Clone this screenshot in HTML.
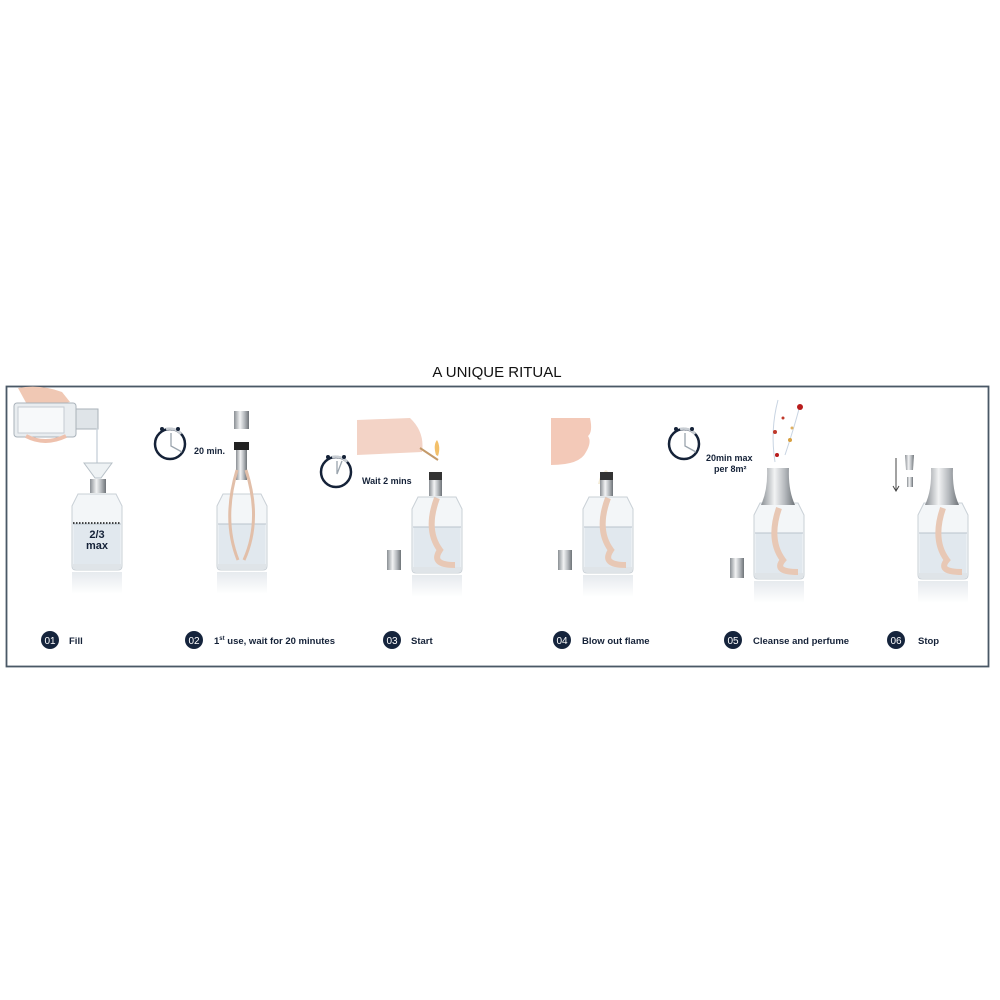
<!DOCTYPE html>
<html><head><meta charset="utf-8"><style>
html,body{margin:0;padding:0;background:#fff;}
svg{display:block;font-family:"Liberation Sans",sans-serif;}
</style></head><body>
<svg width="1000" height="1000" viewBox="0 0 1000 1000" xmlns="http://www.w3.org/2000/svg">
<defs>
<linearGradient id="silver" x1="0" x2="1"><stop offset="0" stop-color="#8a8f94"/><stop offset="0.4" stop-color="#f2f3f4"/><stop offset="0.7" stop-color="#b5b9bd"/><stop offset="1" stop-color="#6e7378"/></linearGradient>
<linearGradient id="refl" x1="0" y1="0" x2="0" y2="1"><stop offset="0" stop-color="#e6eaee"/><stop offset="1" stop-color="#fff"/></linearGradient>
<g id="bottle">
<path d="M6 0 L44 0 L50 12 L50 72 Q50 76 46 76 L4 76 Q0 76 0 72 L0 12 Z" fill="#f3f6f8" stroke="#c9d0d6" stroke-width="1"/>
<rect x="1.5" y="30" width="47" height="40" fill="#e1e8ee"/>
<line x1="1" y1="30" x2="49" y2="30" stroke="#b9c3cc" stroke-width="1"/>
<rect x="1" y="70" width="48" height="5" fill="#dfe4e8"/>
<rect x="0" y="78" width="50" height="22" fill="url(#refl)"/>
</g>
<g id="watch">
<circle cx="0" cy="0" r="15" fill="#fff" stroke="#152238" stroke-width="2.5"/>
<path d="M-4 -15 A15 15 0 0 1 11 -10" fill="none" stroke="#c8cdd3" stroke-width="2.5"/>
<circle cx="-8" cy="-15" r="2" fill="#152238"/><circle cx="8" cy="-15" r="2" fill="#152238"/>
</g>
</defs>
<text x="497" y="377" text-anchor="middle" font-size="15" fill="#111">A UNIQUE RITUAL</text>
<rect x="6.5" y="386.5" width="982" height="280" fill="#fff" stroke="#4a5866" stroke-width="1.8"/>

<!-- step 1 -->
<path d="M18 388 Q40 384 62 392 L70 402 L30 410 Z" fill="#f0c8b4"/>
<rect x="14" y="403" width="62" height="34" rx="3" fill="#e9edf0" stroke="#a9b2ba"/>
<rect x="18" y="407" width="46" height="26" fill="#f7f9fa" stroke="#c5ccd2"/>
<rect x="76" y="409" width="22" height="20" fill="#dfe4e8" stroke="#aab2b9"/>
<path d="M26 436 Q45 446 66 436" fill="none" stroke="#eec1ad" stroke-width="4"/>
<line x1="97" y1="428" x2="97" y2="465" stroke="#cdd6dd" stroke-width="1.5"/>
<path d="M84 463 L112 463 L101 478 L95 478 Z" fill="#eef2f4" stroke="#b7c0c7"/>
<rect x="90" y="479" width="16" height="14" fill="url(#silver)"/>
<use href="#bottle" x="72" y="494"/>
<line x1="73" y1="523" x2="121" y2="523" stroke="#111" stroke-width="1.5" stroke-dasharray="1.5 1.5"/>
<text x="97" y="538" text-anchor="middle" font-size="11" font-weight="bold" fill="#152238">2/3</text>
<text x="97" y="549" text-anchor="middle" font-size="11" font-weight="bold" fill="#152238">max</text>

<!-- step 2 -->
<use href="#watch" x="170" y="444"/>
<path d="M171 433 L171 446 L182 452" fill="none" stroke="#9aa4ad" stroke-width="1.3"/>
<text x="194" y="454" font-size="9" font-weight="bold" fill="#152238">20 min.</text>
<rect x="234" y="411" width="15" height="18" fill="url(#silver)"/>
<rect x="234" y="442" width="15" height="8" fill="#222"/>
<rect x="236" y="450" width="11" height="30" fill="url(#silver)"/>
<use href="#bottle" x="217" y="494"/>
<path d="M237 470 Q222 520 238 560 M246 470 Q262 520 244 560" fill="none" stroke="#e2bfa9" stroke-width="3"/>

<!-- step 3 -->
<use href="#watch" x="336" y="472"/>
<path d="M337 461 L337 474 L342 461" fill="none" stroke="#9aa4ad" stroke-width="1.3"/>
<text x="362" y="484" font-size="9" font-weight="bold" fill="#152238">Wait 2 mins</text>
<path d="M357 420 L410 418 Q425 432 422 452 L357 455 Z" fill="#f3d3c6"/>
<line x1="420" y1="448" x2="438" y2="460" stroke="#c49a6a" stroke-width="2"/>
<path d="M436 455 Q433 445 437 440 Q441 447 438 456 Z" fill="#f3c06a"/>
<rect x="429" y="472" width="13" height="8" fill="#333"/>
<rect x="429" y="480" width="13" height="16" fill="url(#silver)"/>
<use href="#bottle" x="412" y="497"/>
<path d="M437 498 Q425 530 440 550 Q430 565 455 565" fill="none" stroke="#e8c8b5" stroke-width="6"/>
<rect x="387" y="550" width="14" height="20" fill="url(#silver)"/>

<!-- step 4 -->
<path d="M551 418 L590 418 Q593 432 588 436 Q592 442 586 452 Q580 465 551 465 Z" fill="#f3c9b8"/>
<path d="M598 484 Q600 474 606 470 Q614 476 613 484 Z" fill="#f4ecd8"/>
<rect x="600" y="472" width="13" height="8" fill="#333"/>
<rect x="600" y="480" width="13" height="16" fill="url(#silver)"/>
<use href="#bottle" x="583" y="497"/>
<path d="M608 498 Q596 530 611 550 Q601 565 626 565" fill="none" stroke="#e8c8b5" stroke-width="6"/>
<rect x="558" y="550" width="14" height="20" fill="url(#silver)"/>

<!-- step 5 -->
<use href="#watch" x="684" y="444"/>
<path d="M685 433 L685 446 L696 452" fill="none" stroke="#9aa4ad" stroke-width="1.3"/>
<text x="706" y="461" font-size="9" font-weight="bold" fill="#152238">20min max</text>
<text x="714" y="472" font-size="9" font-weight="bold" fill="#152238">per 8m²</text>
<path d="M775 462 Q770 430 778 400 M785 455 Q795 425 800 405" fill="none" stroke="#c8d4e2" stroke-width="1"/>
<circle cx="800" cy="407" r="3" fill="#b81c1c"/><circle cx="775" cy="432" r="2" fill="#c0392b"/><circle cx="790" cy="440" r="2" fill="#d8a040"/><circle cx="783" cy="418" r="1.5" fill="#c0392b"/><circle cx="777" cy="455" r="2" fill="#b81c1c"/><circle cx="792" cy="428" r="1.5" fill="#e0b060"/>
<use href="#bottle" x="754" y="503"/>
<path d="M767 468 L789 468 Q788 490 795 505 L761 505 Q768 490 767 468 Z" fill="url(#silver)"/>
<path d="M779 508 Q768 540 783 560 Q773 572 798 572" fill="none" stroke="#e8c8b5" stroke-width="6"/>
<rect x="730" y="558" width="14" height="20" fill="url(#silver)"/>

<!-- step 6 -->
<line x1="896" y1="458" x2="896" y2="490" stroke="#444" stroke-width="1"/>
<path d="M893 486 L896 491 L899 486" fill="none" stroke="#444" stroke-width="1"/>
<path d="M905 455 L914 455 L913 470 L906 470 Z" fill="url(#silver)"/>
<rect x="907" y="477" width="6" height="10" fill="url(#silver)"/>
<use href="#bottle" x="918" y="503"/>
<path d="M931 468 L953 468 Q952 490 959 505 L925 505 Q932 490 931 468 Z" fill="url(#silver)"/>
<path d="M943 508 Q932 540 947 560 Q937 572 962 572" fill="none" stroke="#e8c8b5" stroke-width="6"/>

<!-- labels -->
<g font-size="9.5" font-weight="bold" fill="#152238">
<circle cx="50" cy="640" r="9" fill="#15243c"/><text x="50" y="644" text-anchor="middle" fill="#fff" font-weight="normal" font-size="10">01</text>
<text x="69" y="644">Fill</text>
<circle cx="194" cy="640" r="9" fill="#15243c"/><text x="194" y="644" text-anchor="middle" fill="#fff" font-weight="normal" font-size="10">02</text>
<text x="214" y="644">1<tspan font-size="6" dy="-4">st</tspan><tspan dy="4"> use, wait for 20 minutes</tspan></text>
<circle cx="392" cy="640" r="9" fill="#15243c"/><text x="392" y="644" text-anchor="middle" fill="#fff" font-weight="normal" font-size="10">03</text>
<text x="411" y="644">Start</text>
<circle cx="562" cy="640" r="9" fill="#15243c"/><text x="562" y="644" text-anchor="middle" fill="#fff" font-weight="normal" font-size="10">04</text>
<text x="582" y="644">Blow out flame</text>
<circle cx="733" cy="640" r="9" fill="#15243c"/><text x="733" y="644" text-anchor="middle" fill="#fff" font-weight="normal" font-size="10">05</text>
<text x="753" y="644">Cleanse and perfume</text>
<circle cx="896" cy="640" r="9" fill="#15243c"/><text x="896" y="644" text-anchor="middle" fill="#fff" font-weight="normal" font-size="10">06</text>
<text x="918" y="644">Stop</text>
</g>
</svg>
</body></html>
